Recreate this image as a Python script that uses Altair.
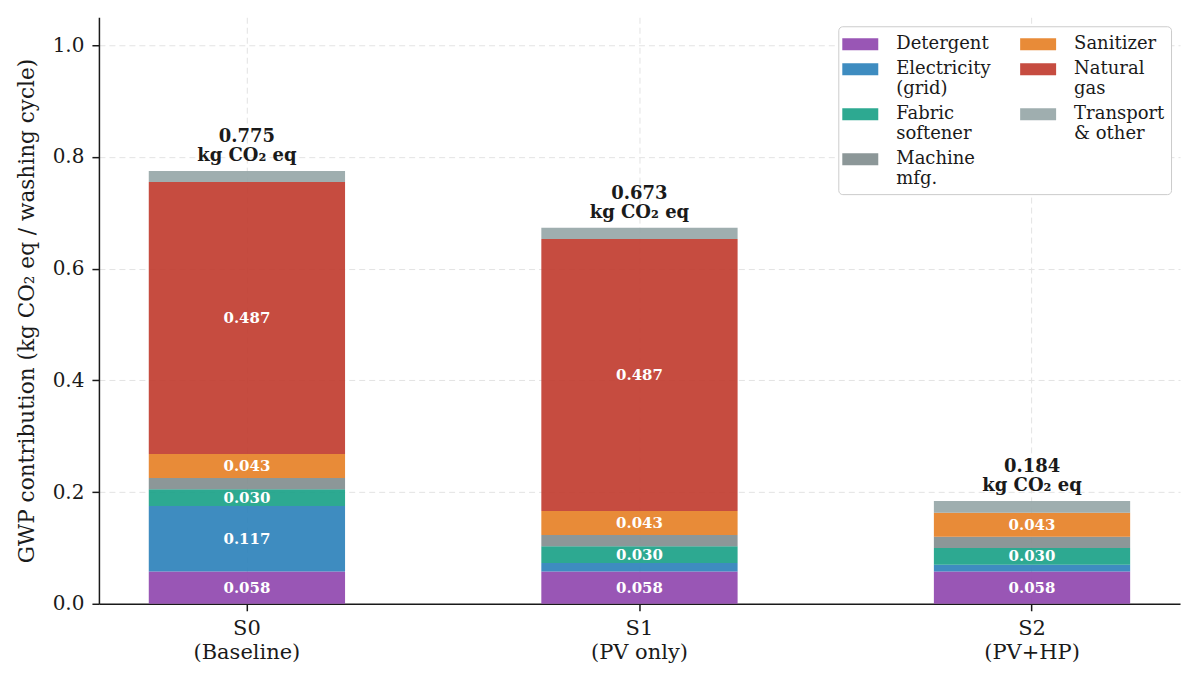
import altair as alt
import pandas as pd

scenarios = ["S0\n(Baseline)", "S1\n(PV only)", "S2\n(PV+HP)"]
components = ["Detergent", "Electricity\n(grid)", "Fabric\nsoftener", "Machine\nmfg.",
              "Sanitizer", "Natural\ngas", "Transport\n& other"]
colors = ["#8e44ad", "#2980b9", "#16a085", "#7f8c8d", "#e67e22", "#c0392b", "#95a5a6"]

detergent = [0.058, 0.058, 0.058]
electricity = [0.117, 0.015, 0.012]
fabric_softener = [0.030, 0.030, 0.030]
machine_mfg = [0.020, 0.020, 0.020]
sanitizer = [0.043, 0.043, 0.043]
natural_gas = [0.487, 0.487, 0.0]
transport = [0.020, 0.020, 0.021]

series = [detergent, electricity, fabric_softener, machine_mfg, sanitizer, natural_gas, transport]
FONT = "DejaVu Serif"
INK = "#1a1a1a"

# stacked rows, bottom to top
rows = []
for s_idx, scen in enumerate(scenarios):
    base = 0.0
    for c_idx, comp in enumerate(components):
        v = series[c_idx][s_idx]
        rows.append({
            "scenario": scen, "component": comp, "order": c_idx, "value": v,
            "y0": base, "y1": base + v, "mid": base + v / 2,
            "label": f"{v:.3f}" if v >= 0.025 else "",
        })
        base += v
df = pd.DataFrame(rows)
totals = df.groupby("scenario", sort=False)["value"].sum().reset_index()
totals["label"] = totals["value"].map(lambda t: f"{t:.3f}")
totals["unit"] = "kg CO₂ eq"

x_enc = alt.X("scenario:N", sort=scenarios, title=None,
              scale=alt.Scale(paddingInner=0.5, paddingOuter=0.127),
              axis=alt.Axis(labelAngle=0, labelExpr="split(datum.label, '\\n')",
                            labelFont=FONT, labelFontSize=21, labelColor=INK,
                            labelPadding=7, labelLineHeight=24, tickColor=INK, tickSize=7,
                            tickWidth=1.5, domainColor=INK, domainWidth=1.5,
                            grid=True, gridDash=[6, 4], gridColor="#e3e3e3",
                            bandPosition=0.5))
y_scale = alt.Scale(domain=[0, 1.05], nice=False)

bars = alt.Chart(df).mark_bar(opacity=0.9).encode(
    x=x_enc,
    y=alt.Y("y0:Q", scale=y_scale, title="GWP contribution (kg CO₂ eq / washing cycle)",
            axis=alt.Axis(values=[0, 0.2, 0.4, 0.6, 0.8, 1.0], format=".1f",
                          labelFont=FONT, labelFontSize=20, labelColor=INK, labelPadding=8,
                          titleFont=FONT, titleFontSize=21.6, titleFontWeight="normal",
                          titleColor=INK, titlePadding=14, tickColor=INK, tickSize=7,
                          tickWidth=1.5, domainColor=INK, domainWidth=1.5,
                          gridDash=[6, 4], gridColor="#e3e3e3")),
    y2="y1:Q",
    color=alt.Color("component:N", scale=alt.Scale(domain=components, range=colors),
                    legend=alt.Legend(title=None, orient="top-right", columns=2,
                                      labelExpr="split(datum.label, '\\n')",
                                      labelFont=FONT, labelFontSize=18, labelColor=INK,
                                      symbolType="M-1.5,-0.5H1.5V0.5H-1.5Z", symbolSize=576,
                                      symbolStrokeWidth=0, symbolOpacity=0.9, symbolOffset=4,
                                      strokeColor="#cccccc", padding=6, cornerRadius=4,
                                      fillColor="white", rowPadding=4, columnPadding=29,
                                      labelOffset=24, offset=9, labelLimit=250)),
    order=alt.Order("order:Q"),
)

seg_text = alt.Chart(df).mark_text(font=FONT, fontSize=15, fontWeight="bold",
                                   color="white").encode(
    x=alt.X("scenario:N", sort=scenarios),
    y=alt.Y("mid:Q", scale=y_scale),
    text="label:N",
)

tot_value = alt.Chart(totals).mark_text(font=FONT, fontSize=18, fontWeight="bold",
                                        color=INK, baseline="alphabetic", dy=-29).encode(
    x=alt.X("scenario:N", sort=scenarios),
    y=alt.Y("value:Q", scale=y_scale),
    text="label:N",
)

tot_unit = alt.Chart(totals).mark_text(font=FONT, fontSize=18, fontWeight="bold",
                                       color=INK, baseline="alphabetic", dy=-10).encode(
    x=alt.X("scenario:N", sort=scenarios),
    y=alt.Y("value:Q", scale=y_scale),
    text="unit:N",
)

chart = alt.layer(bars, seg_text, tot_value, tot_unit).properties(
    width=1082, height=587,
    autosize=alt.AutoSizeParams(type="none"),
    padding={"left": 91, "top": 9, "right": 12, "bottom": 70},
    background="white",
).configure_view(stroke=None)

chart.save("out.html", embed_options={"renderer": "svg", "actions": False})
